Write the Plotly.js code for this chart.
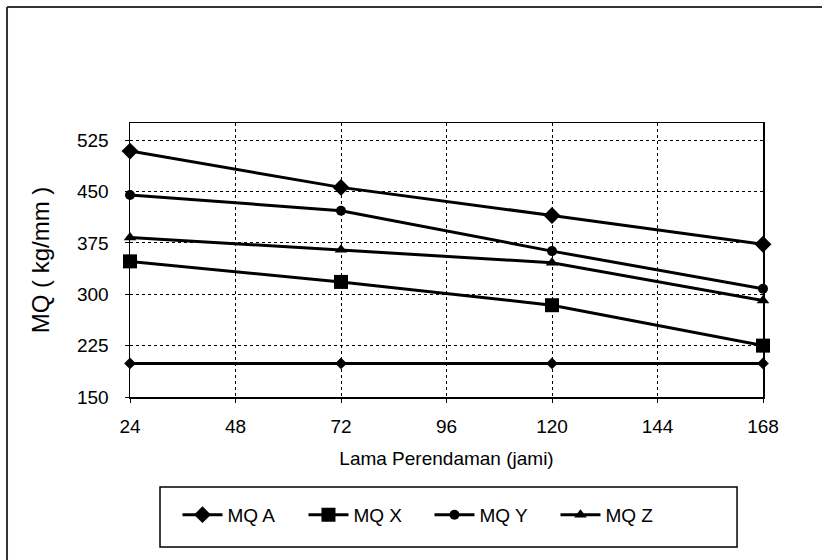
<!DOCTYPE html>
<html>
<head>
<meta charset="utf-8">
<script src="https://cdn.plot.ly/plotly-3.0.1.min.js"></script>
<style>
html,body{margin:0;padding:0;background:#fff;}
#chart{width:822px;height:560px;}
</style>
</head>
<body>
<div id="chart"></div>
<script>
// Data
const hours = [24, 72, 120, 168];
const mqA = [509, 456, 415, 373];
const mqX = [348, 318, 284, 225];
const mqY = [445, 422, 363, 308];
const mqZ = [383, 365, 346, 291];
const baseLine = [199, 199, 199, 199];
const seriesNames = ["MQ A", "MQ X", "MQ Y", "MQ Z"];
const xTicks = [24, 48, 72, 96, 120, 144, 168];
const yTicks = [150, 225, 300, 375, 450, 525];

const FONT = "Liberation Sans, Arial, sans-serif";
const lineStyle = {color: "#000", width: 3};

function trace(y, name, symbol, size, showlegend) {
  return {
    x: hours, y: y, name: name, type: "scatter", mode: "lines+markers",
    line: lineStyle, cliponaxis: false, showlegend: showlegend,
    marker: {symbol: symbol, size: size, color: "#000"}
  };
}

const data = [
  trace(mqA, seriesNames[0], "diamond", 13, true),
  trace(mqX, seriesNames[1], "square", 14, true),
  trace(mqY, seriesNames[2], "circle", 10, true),
  trace(mqZ, seriesNames[3], "triangle-up", 11, true),
  trace(baseLine, "", "diamond", 9, false)
];

const layout = {
  width: 822, height: 560,
  margin: {l: 130, r: 59, t: 123, b: 163},
  paper_bgcolor: "#fff", plot_bgcolor: "#fff",
  font: {family: FONT, size: 19, color: "#000"},
  showlegend: true,
  xaxis: {
    range: [24, 168], tickvals: xTicks, ticktext: xTicks.map(String),
    showgrid: true, gridcolor: "#000", gridwidth: 1, griddash: "3px,3px",
    showline: true, linecolor: "#000", linewidth: 1.5, mirror: true,
    ticks: "outside", ticklen: 4, tickcolor: "#000", zeroline: false,
    ticklabelstandoff: 8,
    tickfont: {family: FONT, size: 19, color: "#000"},
    title: {text: "Lama Perendaman (jami)", font: {family: FONT, size: 19, color: "#000"}, standoff: 15}
  },
  yaxis: {
    range: [150, 550], tickvals: yTicks, ticktext: yTicks.map(String),
    showgrid: true, gridcolor: "#000", gridwidth: 1, griddash: "3px,3px",
    showline: true, linecolor: "#000", linewidth: 1.5, mirror: true,
    ticks: "outside", ticklen: 4, tickcolor: "#000", zeroline: false,
    ticklabelstandoff: 12,
    tickfont: {family: FONT, size: 19, color: "#000"},
    title: {text: "MQ ( kg/mm )", font: {family: FONT, size: 24, color: "#000"}, standoff: 20}
  },
  legend: {
    orientation: "h", x: 0.075, xanchor: "left", y: -0.43, yanchor: "middle",
    bgcolor: "rgba(0,0,0,0)", borderwidth: 0,
    font: {family: FONT, size: 19, color: "#000"},
    entrywidth: 71, itemwidth: 40
  },
  shapes: [
    {type: "rect", xref: "paper", yref: "paper", x0: 0.0474, x1: 0.959, y0: -0.5474, y1: -0.3285,
     line: {color: "#000", width: 1.5}},
    {type: "line", xref: "paper", yref: "paper", x0: -0.1943, x1: 1.2, y0: 1.4234, y1: 1.4234,
     line: {color: "#333", width: 2}},
    {type: "line", xref: "paper", yref: "paper", x0: -0.1943, x1: -0.1943, y0: 1.4234, y1: -0.7,
     line: {color: "#333", width: 2}}
  ]
};

Plotly.newPlot("chart", data, layout, {displayModeBar: false, staticPlot: true});
</script>
</body>
</html>
